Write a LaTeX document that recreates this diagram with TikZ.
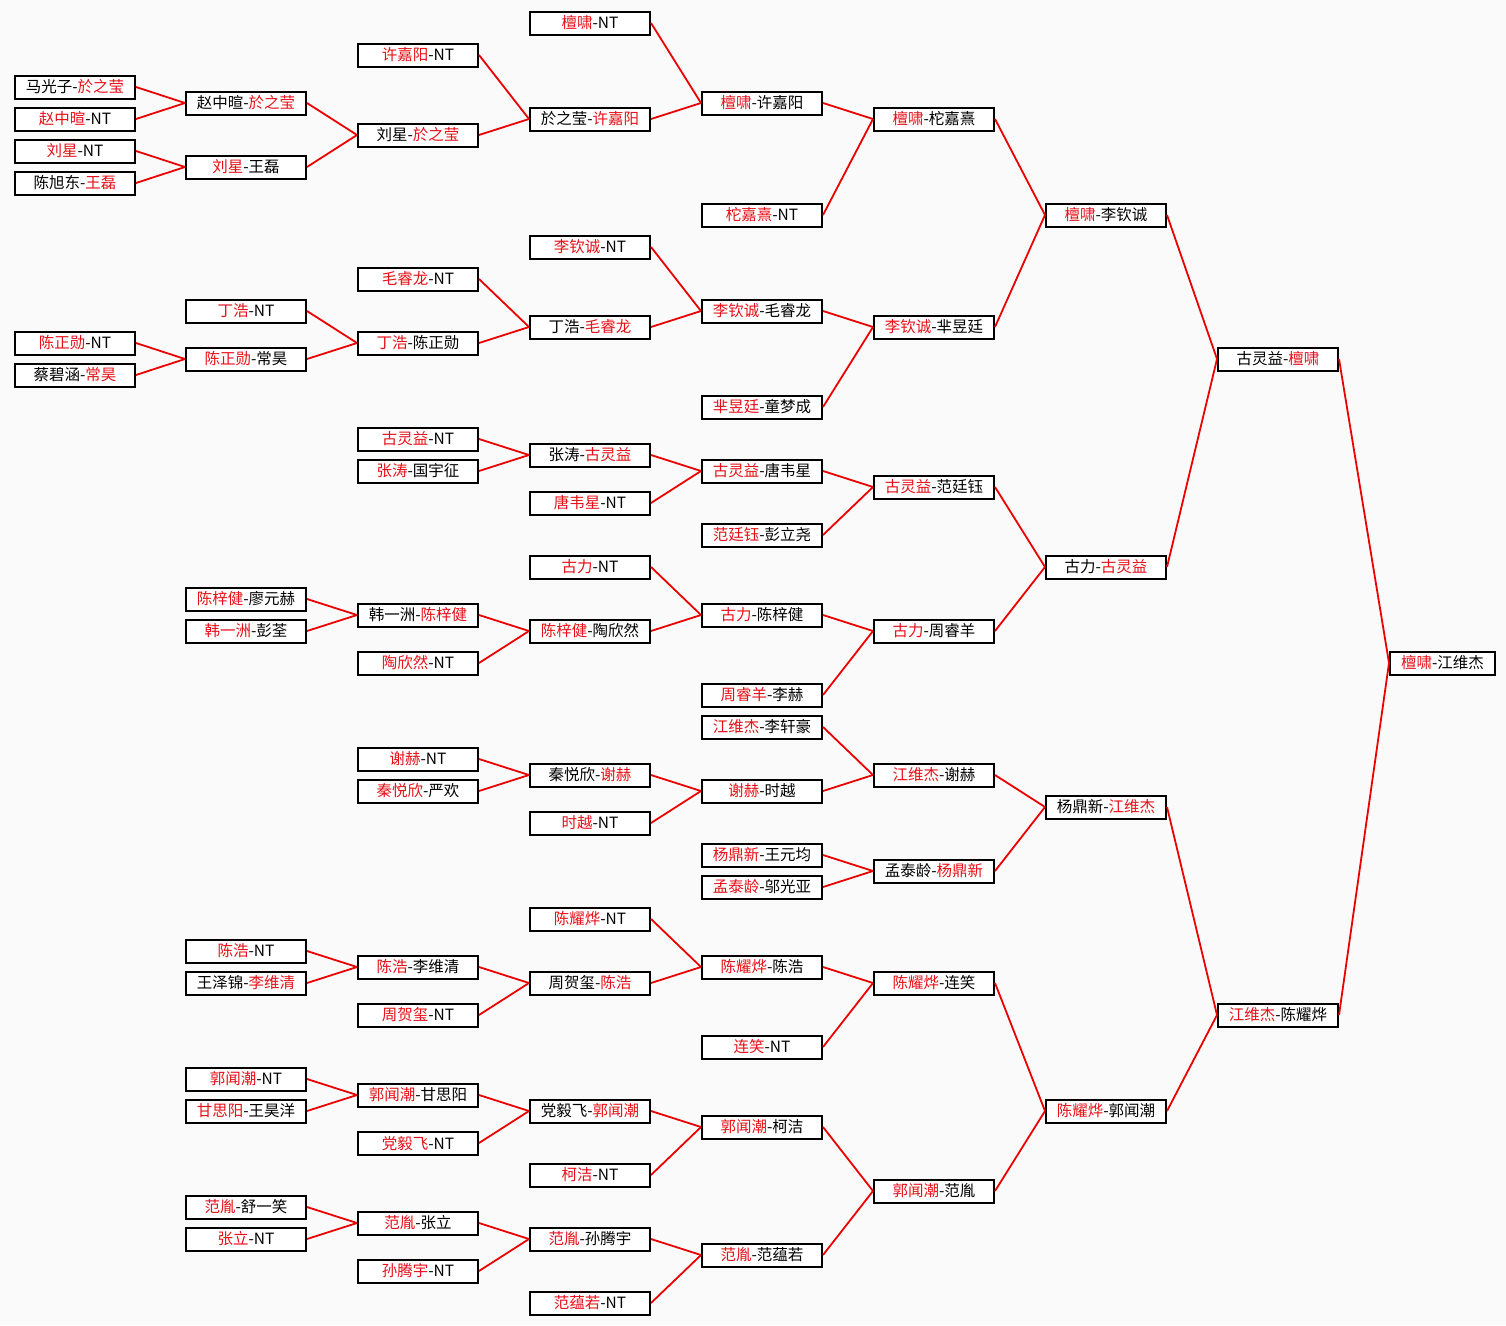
\documentclass[tikz,border=0pt]{standalone}
\usepackage{fontspec}
\setmainfont{Noto Sans CJK SC}
\definecolor{wred}{RGB}{232,16,24}
\definecolor{lred}{RGB}{235,0,0}
\definecolor{bgc}{RGB}{250,250,250}
\newcommand\winner[1]{\textcolor{wred}{#1}}
\begin{document}
\begin{tikzpicture}[x=1pt,y=-1pt,
  bx/.style={draw=black, line width=2pt, fill=white, minimum width=120pt, minimum height=23pt, inner sep=0pt, font=\fontsize{15.5}{15.5}\selectfont, text=black},
  fin/.style={bx, minimum width=105pt},
  link/.style={draw=lred, line width=1.8pt}]
\useasboundingbox (0,0) rectangle (1506,1325);
\fill[bgc] (0,0) rectangle (1506,1325);
% column 0
\node[bx] (A0a) at (75,87) {马光子-\winner{於之莹}};
\node[bx] (A0b) at (75,119) {\winner{赵中暄}-NT};
\node[bx] (A0c) at (75,151) {\winner{刘星}-NT};
\node[bx] (A0d) at (75,183) {陈旭东-\winner{王磊}};
\node[bx] (A0e) at (75,343) {\winner{陈正勋}-NT};
\node[bx] (A0f) at (75,375) {蔡碧涵-\winner{常昊}};
% column 1
\node[bx] (B1a) at (246,103) {赵中暄-\winner{於之莹}};
\node[bx] (B1b) at (246,167) {\winner{刘星}-王磊};
\node[bx] (B1c) at (246,311) {\winner{丁浩}-NT};
\node[bx] (B1d) at (246,359) {\winner{陈正勋}-常昊};
\node[bx] (B1e) at (246,599) {\winner{陈梓健}-廖元赫};
\node[bx] (B1f) at (246,631) {\winner{韩一洲}-彭荃};
\node[bx] (B1g) at (246,951) {\winner{陈浩}-NT};
\node[bx] (B1h) at (246,983) {王泽锦-\winner{李维清}};
\node[bx] (B1i) at (246,1079) {\winner{郭闻潮}-NT};
\node[bx] (B1j) at (246,1111) {\winner{甘思阳}-王昊洋};
\node[bx] (B1k) at (246,1207) {\winner{范胤}-舒一笑};
\node[bx] (B1l) at (246,1239) {\winner{张立}-NT};
% column 2
\node[bx] (C2a) at (418,55) {\winner{许嘉阳}-NT};
\node[bx] (C2b) at (418,135) {刘星-\winner{於之莹}};
\node[bx] (C2c) at (418,279) {\winner{毛睿龙}-NT};
\node[bx] (C2d) at (418,343) {\winner{丁浩}-陈正勋};
\node[bx] (C2e) at (418,439) {\winner{古灵益}-NT};
\node[bx] (C2f) at (418,471) {\winner{张涛}-国宇征};
\node[bx] (C2g) at (418,615) {韩一洲-\winner{陈梓健}};
\node[bx] (C2h) at (418,663) {\winner{陶欣然}-NT};
\node[bx] (C2i) at (418,759) {\winner{谢赫}-NT};
\node[bx] (C2j) at (418,791) {\winner{秦悦欣}-严欢};
\node[bx] (C2k) at (418,967) {\winner{陈浩}-李维清};
\node[bx] (C2l) at (418,1015) {\winner{周贺玺}-NT};
\node[bx] (C2m) at (418,1095) {\winner{郭闻潮}-甘思阳};
\node[bx] (C2n) at (418,1143) {\winner{党毅飞}-NT};
\node[bx] (C2o) at (418,1223) {\winner{范胤}-张立};
\node[bx] (C2p) at (418,1271) {\winner{孙腾宇}-NT};
% column 3
\node[bx] (D3a) at (590,23) {\winner{檀啸}-NT};
\node[bx] (D3b) at (590,119) {於之莹-\winner{许嘉阳}};
\node[bx] (D3c) at (590,247) {\winner{李钦诚}-NT};
\node[bx] (D3d) at (590,327) {丁浩-\winner{毛睿龙}};
\node[bx] (D3e) at (590,455) {张涛-\winner{古灵益}};
\node[bx] (D3f) at (590,503) {\winner{唐韦星}-NT};
\node[bx] (D3g) at (590,567) {\winner{古力}-NT};
\node[bx] (D3h) at (590,631) {\winner{陈梓健}-陶欣然};
\node[bx] (D3i) at (590,775) {秦悦欣-\winner{谢赫}};
\node[bx] (D3j) at (590,823) {\winner{时越}-NT};
\node[bx] (D3k) at (590,919) {\winner{陈耀烨}-NT};
\node[bx] (D3l) at (590,983) {周贺玺-\winner{陈浩}};
\node[bx] (D3m) at (590,1111) {党毅飞-\winner{郭闻潮}};
\node[bx] (D3n) at (590,1175) {\winner{柯洁}-NT};
\node[bx] (D3o) at (590,1239) {\winner{范胤}-孙腾宇};
\node[bx] (D3p) at (590,1303) {\winner{范蕴若}-NT};
% column 4
\node[bx] (E4a) at (762,103) {\winner{檀啸}-许嘉阳};
\node[bx] (E4b) at (762,215) {\winner{柁嘉熹}-NT};
\node[bx] (E4c) at (762,311) {\winner{李钦诚}-毛睿龙};
\node[bx] (E4d) at (762,407) {\winner{芈昱廷}-童梦成};
\node[bx] (E4e) at (762,471) {\winner{古灵益}-唐韦星};
\node[bx] (E4f) at (762,535) {\winner{范廷钰}-彭立尧};
\node[bx] (E4g) at (762,615) {\winner{古力}-陈梓健};
\node[bx] (E4h) at (762,695) {\winner{周睿羊}-李赫};
\node[bx] (E4i) at (762,727) {\winner{江维杰}-李轩豪};
\node[bx] (E4j) at (762,791) {\winner{谢赫}-时越};
\node[bx] (E4k) at (762,855) {\winner{杨鼎新}-王元均};
\node[bx] (E4l) at (762,887) {\winner{孟泰龄}-邬光亚};
\node[bx] (E4m) at (762,967) {\winner{陈耀烨}-陈浩};
\node[bx] (E4n) at (762,1047) {\winner{连笑}-NT};
\node[bx] (E4o) at (762,1127) {\winner{郭闻潮}-柯洁};
\node[bx] (E4p) at (762,1255) {\winner{范胤}-范蕴若};
% column 5
\node[bx] (F5a) at (934,119) {\winner{檀啸}-柁嘉熹};
\node[bx] (F5b) at (934,327) {\winner{李钦诚}-芈昱廷};
\node[bx] (F5c) at (934,487) {\winner{古灵益}-范廷钰};
\node[bx] (F5d) at (934,631) {\winner{古力}-周睿羊};
\node[bx] (F5e) at (934,775) {\winner{江维杰}-谢赫};
\node[bx] (F5f) at (934,871) {孟泰龄-\winner{杨鼎新}};
\node[bx] (F5g) at (934,983) {\winner{陈耀烨}-连笑};
\node[bx] (F5h) at (934,1191) {\winner{郭闻潮}-范胤};
% column 6
\node[bx] (G6a) at (1106,215) {\winner{檀啸}-李钦诚};
\node[bx] (G6b) at (1106,567) {古力-\winner{古灵益}};
\node[bx] (G6c) at (1106,807) {杨鼎新-\winner{江维杰}};
\node[bx] (G6d) at (1106,1111) {\winner{陈耀烨}-郭闻潮};
% column 7
\node[bx] (H7a) at (1278,359) {古灵益-\winner{檀啸}};
\node[bx] (H7b) at (1278,1015) {\winner{江维杰}-陈耀烨};
% final
\node[fin] (I8) at (1442.5,663) {\winner{檀啸}-江维杰};
% links
\foreach \c/\p in {A0a/B1a, A0b/B1a, A0c/B1b, A0d/B1b, A0e/B1d, A0f/B1d,
  B1a/C2b, B1b/C2b, B1c/C2d, B1d/C2d, B1e/C2g, B1f/C2g, B1g/C2k, B1h/C2k,
  B1i/C2m, B1j/C2m, B1k/C2o, B1l/C2o,
  C2a/D3b, C2b/D3b, C2c/D3d, C2d/D3d, C2e/D3e, C2f/D3e, C2g/D3h, C2h/D3h,
  C2i/D3i, C2j/D3i, C2k/D3l, C2l/D3l, C2m/D3m, C2n/D3m, C2o/D3o, C2p/D3o,
  D3a/E4a, D3b/E4a, D3c/E4c, D3d/E4c, D3e/E4e, D3f/E4e, D3g/E4g, D3h/E4g,
  D3i/E4j, D3j/E4j, D3k/E4m, D3l/E4m, D3m/E4o, D3n/E4o, D3o/E4p, D3p/E4p,
  E4a/F5a, E4b/F5a, E4c/F5b, E4d/F5b, E4e/F5c, E4f/F5c, E4g/F5d, E4h/F5d,
  E4i/F5e, E4j/F5e, E4k/F5f, E4l/F5f, E4m/F5g, E4n/F5g, E4o/F5h, E4p/F5h,
  F5a/G6a, F5b/G6a, F5c/G6b, F5d/G6b, F5e/G6c, F5f/G6c, F5g/G6d, F5h/G6d,
  G6a/H7a, G6b/H7a, G6c/H7b, G6d/H7b, H7a/I8, H7b/I8}
  \draw[link] (\c.east) -- (\p.west);
\end{tikzpicture}
\end{document}
